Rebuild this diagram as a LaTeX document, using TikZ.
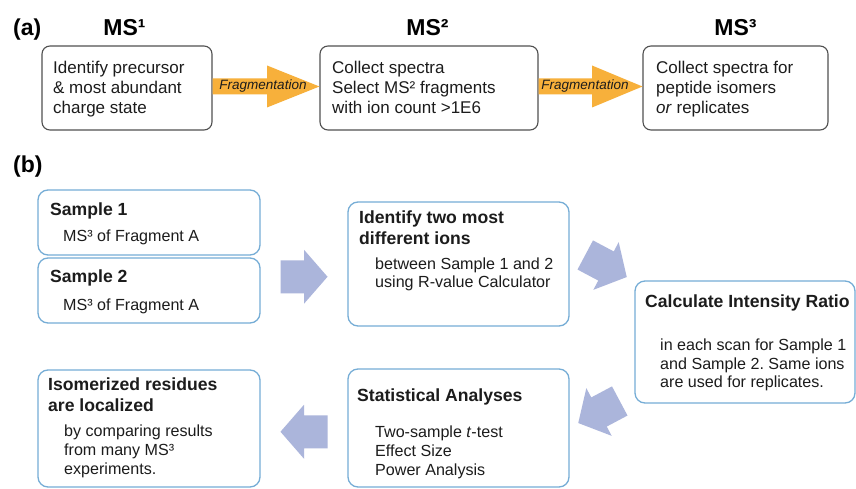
\documentclass[tikz,border=0pt]{standalone}
\usepackage{fontspec}
\setmainfont{Liberation Sans}
\usetikzlibrary{calc}
\frenchspacing
\definecolor{inkdark}{RGB}{28,28,28}
\definecolor{agray}{RGB}{80,80,80}
\definecolor{bblue}{RGB}{118,173,214}
\definecolor{fragorange}{RGB}{247,176,59}
\definecolor{flowblue}{RGB}{171,181,219}
\tikzset{
  abox/.style={draw=agray, line width=1.1pt, rounded corners=8pt, fill=white, inner sep=0pt},
  bbox/.style={draw=bblue, line width=1.3pt, rounded corners=10pt, fill=white, inner sep=0pt},
  atext/.style={anchor=base west, inner sep=0pt, text=inkdark, font=\fontsize{17}{20}\selectfont},
  btext/.style={anchor=base west, inner sep=0pt, text=inkdark, font=\fontsize{16.1}{19}\selectfont},
  bhead/.style={anchor=base west, inner sep=0pt, text=inkdark, font=\fontsize{17.6}{20}\selectfont\bfseries},
  ptitle/.style={anchor=base, inner sep=0pt, text=black, font=\fontsize{23}{26}\selectfont\bfseries},
  plabel/.style={anchor=base west, inner sep=0pt, text=black, font=\fontsize{23}{26}\selectfont\bfseries},
  fraglabel/.style={inner sep=0pt, text=inkdark, font=\fontsize{13.5}{15}\selectfont\itshape},
  blockarrow/.pic={
    \fill[flowblue] (-23.5,-16.5) -- (0,-16.5) -- (0,-27) -- (23.5,0)
      -- (0,27) -- (0,16.5) -- (-23.5,16.5) -- cycle;
  },
}
\begin{document}
\begin{tikzpicture}[x=1pt,y=-1pt]
\fill[white] (0,0) rectangle (856,489);
\useasboundingbox (0,0) rectangle (856,489);

% ---------- (a) MS stages ----------
\node[plabel] (lbla) at (13,35.5) {(a)};
\node[ptitle] (t1) at (124.5,35.5) {MS¹};
\node[ptitle] (t2) at (427.5,35.5) {MS²};
\node[ptitle] (t3) at (735.5,35.5) {MS³};

\node[abox, minimum width=170pt, minimum height=84pt] (ms1) at (127,88) {};
\node[abox, minimum width=218pt, minimum height=84pt] (ms2) at (429,88) {};
\node[abox, minimum width=185pt, minimum height=84pt] (ms3) at (735.5,88) {};

% orange fragmentation arrows between the stage boxes
\fill[fragorange] (ms1.east |- 0,78.5) -- (267,78.5) -- (267,65.5) -- (ms2.west |- 0,86.5)
  -- (267,107.5) -- (267,94.5) -- (ms1.east |- 0,94.5) -- cycle;
\fill[fragorange] (ms2.east |- 0,78.5) -- (592,78.5) -- (592,65.5) -- (ms3.west |- 0,86.5)
  -- (592,107.5) -- (592,94.5) -- (ms2.east |- 0,94.5) -- cycle;
\node[fraglabel] (frag1) at (263,86) {Fragmentation};
\node[fraglabel] (frag2) at (585,86) {Fragmentation};

\node[atext] (m1a) at (53,74) {Identify precursor};
\node[atext] (m1b) at (53,94) {\& most abundant};
\node[atext] (m1c) at (53,113.5) {charge state};

\node[atext] (m2a) at (332,74) {Collect spectra};
\node[atext] (m2b) at (332,94) {Select MS² fragments};
\node[atext] (m2c) at (332,113.5) {with ion count >1E6};

\node[atext] (m3a) at (656,74) {Collect spectra for};
\node[atext] (m3b) at (656,94) {peptide isomers};
\node[atext] (m3c) at (656,113.5) {\textit{or} replicates};

% ---------- (b) analysis workflow ----------
\node[plabel] (lblb) at (13,173) {(b)};

\node[bbox, minimum width=222pt, minimum height=65pt] (s1) at (149,222.5) {};
\node[bbox, minimum width=222pt, minimum height=65pt] (s2) at (149,290.5) {};
\node[bbox, minimum width=221pt, minimum height=124pt] (ident) at (458.5,264) {};
\node[bbox, minimum width=220pt, minimum height=122pt] (calc) at (745,342) {};
\node[bbox, minimum width=221pt, minimum height=118pt] (stat) at (458.5,428) {};
\node[bbox, minimum width=222pt, minimum height=117pt] (iso) at (149,428.5) {};

\node[bhead] (s1a) at (50,215.3) {Sample 1};
\node[btext] (s1b) at (63,241.7) {MS³ of Fragment A};
\node[bhead] (s2a) at (50,282.7) {Sample 2};
\node[btext] (s2b) at (63,310.5) {MS³ of Fragment A};

\node[bhead] (ida) at (359,223.3) {Identify two most};
\node[bhead] (idb) at (359,244) {different ions};
\node[btext] (idc) at (375,269) {between Sample 1 and 2};
\node[btext] (idd) at (375,287.3) {using R-value Calculator};

\node[bhead] (ca) at (645,307.5) {Calculate Intensity Ratio};
\node[btext] (cb) at (660,350.5) {in each scan for Sample 1};
\node[btext] (cc) at (660,369) {and Sample 2. Same ions};
\node[btext] (cd) at (660,387.5) {are used for replicates.};

\node[bhead] (sta) at (357,401.7) {Statistical Analyses};
\node[btext] (stb) at (375,437.3) {Two-sample \textit{t}-test};
\node[btext] (stc) at (375,456.3) {Effect Size};
\node[btext] (std) at (375,475) {Power Analysis};

\node[bhead] (isa) at (48,390.5) {Isomerized residues};
\node[bhead] (isb) at (48,411.5) {are localized};
\node[btext] (isc) at (64,436.5) {by comparing results};
\node[btext] (isd) at (64,455.5) {from many MS³};
\node[btext] (ise) at (64,474.5) {experiments.};

% block arrows leading from step to step
\pic at ($(s1.east)!0.5!(ident.west) + (0,33.5)$) {blockarrow};
\pic[rotate=-28] at (606,266) {blockarrow};
\pic[rotate=208] at (599,412) {blockarrow};
\pic[rotate=180] at ($(iso.east)!0.5!(stat.west) + (0,3.5)$) {blockarrow};
\end{tikzpicture}
\end{document}
